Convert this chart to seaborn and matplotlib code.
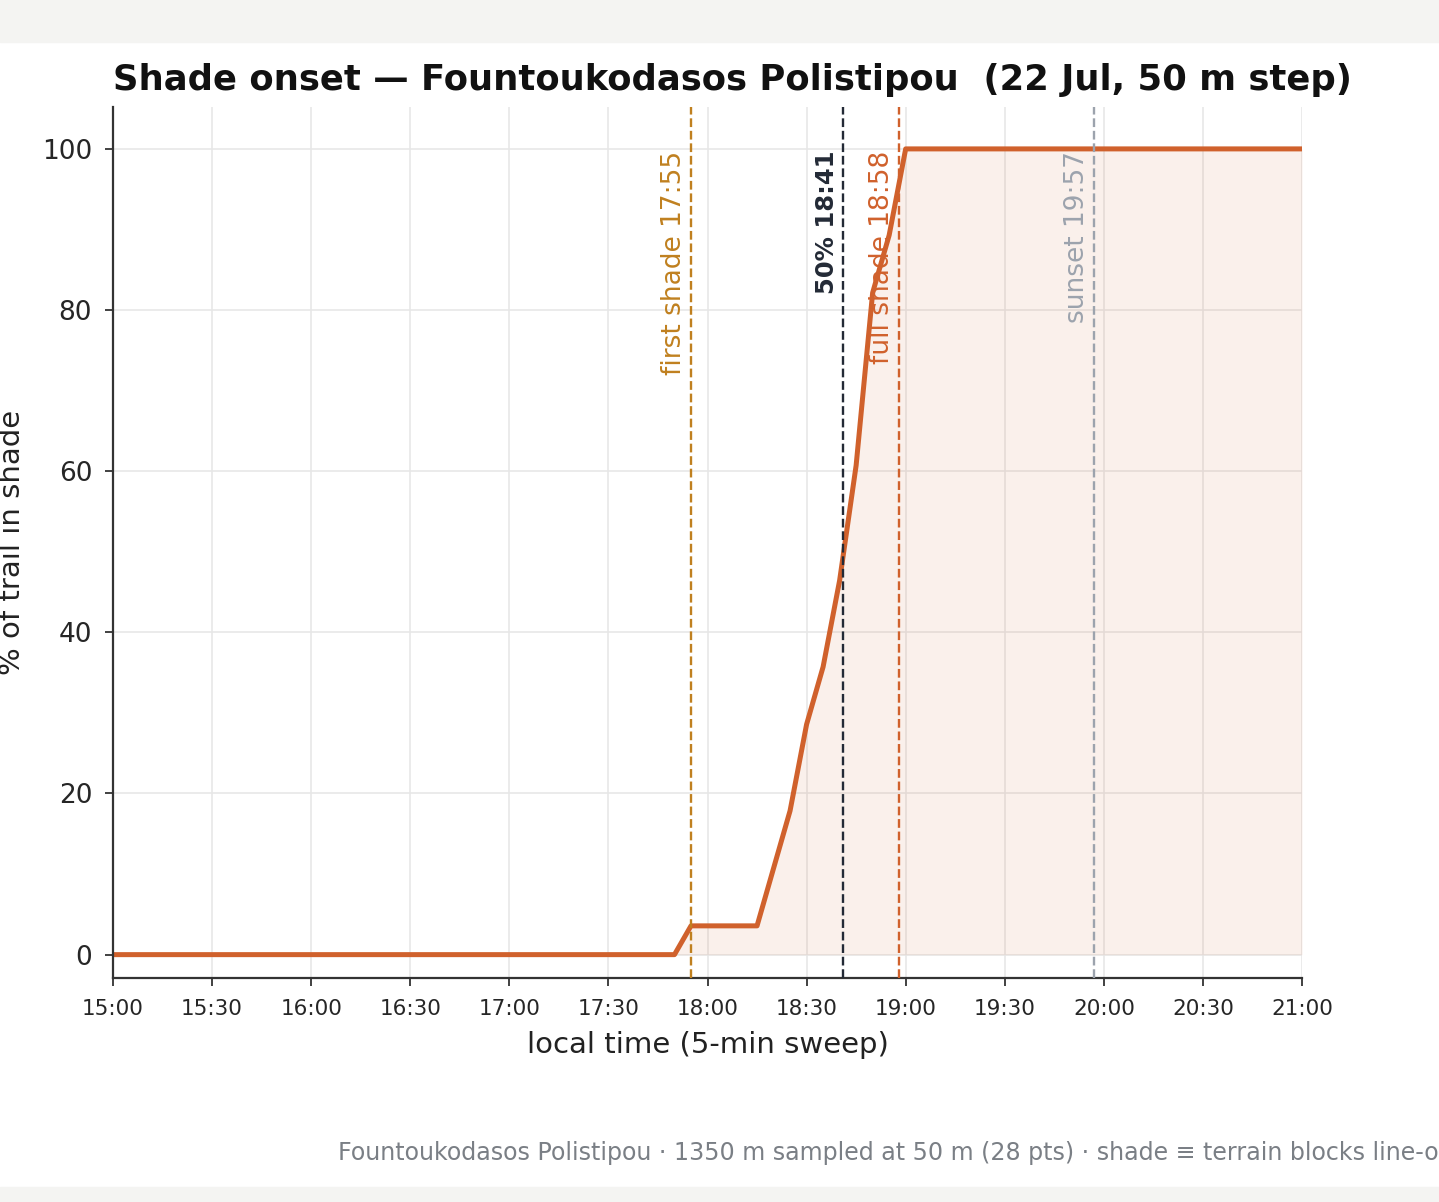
import matplotlib
matplotlib.use('Agg')
import matplotlib.pyplot as plt
from matplotlib.patches import Rectangle
import seaborn as sns
import pandas as pd

# sweep times, minutes after 15:00 (5-min steps)
minutes = list(range(0, 361, 5))

# number of trail points in shade (out of 28) at each sweep step
shaded_pts = [
    0, 0, 0, 0, 0, 0, 0, 0, 0, 0, 0, 0,      # 15:00 - 15:55
    0, 0, 0, 0, 0, 0, 0, 0, 0, 0, 0, 0,      # 16:00 - 16:55
    0, 0, 0, 0, 0, 0, 0, 0, 0, 0, 0, 1,      # 17:00 - 17:55
    1, 1, 1, 1, 3, 5, 8, 10, 13, 17, 23, 25, # 18:00 - 18:55
    28, 28, 28, 28, 28, 28, 28, 28, 28, 28, 28, 28,  # 19:00 - 19:55
    28, 28, 28, 28, 28, 28, 28, 28, 28, 28, 28, 28,  # 20:00 - 20:55
    28,                                       # 21:00
]
n_pts = 28

tick_minutes = list(range(0, 361, 30))
tick_labels = ['15:00', '15:30', '16:00', '16:30', '17:00', '17:30', '18:00',
               '18:30', '19:00', '19:30', '20:00', '20:30', '21:00']

# event markers (minutes after 15:00)
event_names = ['first shade', '50%', 'full shade', 'sunset']
event_times = ['17:55', '18:41', '18:58', '19:57']
event_minutes = [175, 221, 238, 297]
event_colors = ['#c0801f', '#232a36', '#d0612c', '#9ca3ad']
event_bold = [False, True, False, False]

title = 'Shade onset \u2014 Fountoukodasos Polistipou  (22 Jul, 50 m step)'
footer = ('Fountoukodasos Polistipou \u00b7 1350 m sampled at 50 m (28 pts) \u00b7 '
          'shade \u2261 terrain blocks line-of-sight to the sun')

curve_color = '#d0612c'

df = pd.DataFrame({'minute': minutes,
                   'pct': [100.0 * p / n_pts for p in shaded_pts]})

sns.set_theme(style='whitegrid')
plt.rcParams['font.family'] = ['DejaVu Sans']

W, H = 1439, 1202
fig = plt.figure(figsize=(W / 100, H / 100), dpi=100)
fig.patch.set_facecolor('white')
# page bands of the screenshot
fig.patches.append(Rectangle((0, 1 - 42 / H), 1, 42 / H, transform=fig.transFigure,
                             color='#f4f4f2', zorder=-5))
fig.patches.append(Rectangle((0, 0), 1, 15 / H, transform=fig.transFigure,
                             color='#f4f4f2', zorder=-5))

ax = fig.add_axes([113 / W, 1 - 978 / H, (1302 - 113) / W, (978 - 107) / H])
ax.set_facecolor('white')

ax.fill_between(df['minute'], 0, df['pct'], color=curve_color, alpha=0.09, lw=0)
sns.lineplot(data=df, x='minute', y='pct', ax=ax, color=curve_color, lw=3.6)

for name, t, m, c, b in zip(event_names, event_times, event_minutes, event_colors, event_bold):
    ax.axvline(m, color=c, ls='--', lw=1.7, zorder=3)
    ax.text(m - 1.2, 99.8, f'{name} {t}', rotation=90, ha='right', va='top',
            color=c, fontsize=17.5 if b else 19, fontweight='bold' if b else 'normal')

ax.set_xlim(0, 360)
ax.set_ylim(-2.9, 105.2)
ax.set_xticks(tick_minutes)
ax.set_xticklabels(tick_labels)
ax.set_yticks([0, 20, 40, 60, 80, 100])
ax.tick_params(axis='x', labelsize=15.5, length=6, width=1.3, color='#333333',
               bottom=True, pad=9)
ax.tick_params(axis='y', labelsize=19, length=6, width=1.3, color='#333333',
               left=True, pad=9)
ax.grid(True, color='#e6e6e6', lw=1.1)

for s in ['top', 'right']:
    ax.spines[s].set_visible(False)
for s in ['left', 'bottom']:
    ax.spines[s].set_visible(True)
    ax.spines[s].set_color('#333333')
    ax.spines[s].set_linewidth(1.6)

ax.set_xlabel('local time (5-min sweep)', fontsize=21, color='#222222', labelpad=9)
ax.set_ylabel('% of trail in shade', fontsize=21, color='#222222')
ax.yaxis.set_label_coords(-0.073, 0.5)
ax.set_title(title, loc='left', fontsize=25.5, fontweight='bold', color='#111111', pad=12)

fig.text(338 / W, 1 - 1153 / H, footer, ha='left', va='center', color='#7a7f85',
         fontsize=17.1)

fig.savefig('out.png', dpi=100)
